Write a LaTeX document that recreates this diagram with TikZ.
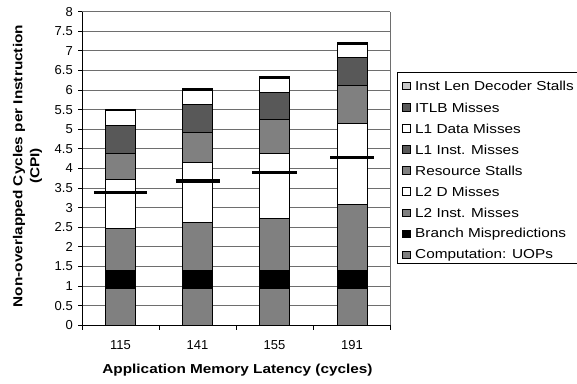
\documentclass[tikz,border=0pt]{standalone}
\usepackage{fontspec}
\setmainfont{Liberation Sans}
\newfontfamily\widefont{Liberation Sans}[FakeStretch=1.18]
\definecolor{cgray}{HTML}{808080}
\definecolor{cdark}{HTML}{585858}
\definecolor{clight}{HTML}{C8C8C8}
\definecolor{cgrid}{HTML}{6E6E6E}
\begin{document}
\begin{tikzpicture}[x=1pt,y=-1pt,
  seg/.style={draw=black,line width=0.8pt},
  gridline/.style={draw=cgrid,line width=0.9pt},
  axisline/.style={draw=black,line width=0.9pt},
  ticklab/.style={font=\fontsize{13}{15}\selectfont},
  leglab/.style={anchor=west,inner sep=0pt,font=\widefont\fontsize{13}{15}\selectfont},
  swatch/.style={draw=black,line width=0.7pt,minimum size=7.5pt,inner sep=0pt},
  marker/.style={line width=3.3pt,draw=black}]
\useasboundingbox (0,0) rectangle (577,383);
\fill[white] (0,0) rectangle (577,383);
\begin{scope}[shift={(0,325.3)},x=1pt,y=39.2pt]
  % grid
  \foreach \v in {0.5,1,1.5,2,2.5,3,3.5,4,4.5,5,5.5,6,6.5,7,7.5,8}
    \draw[gridline] (82,\v) -- (390,\v);
  \draw[gridline] (390,0) -- (390,8);
  % bars
  \foreach \xc/\ya/\yb/\yc/\yd/\ye/\yf/\yg/\yh/\yi/\my/\mw in {
      120.5/0.94/1.41/2.47/3.73/4.38/5.10/5.47/5.50/5.52/3.38/26.7,
      197.5/0.94/1.41/2.62/4.15/4.92/5.64/6.00/6.03/6.05/3.68/22,
      274.5/0.94/1.41/2.73/4.38/5.25/5.94/6.30/6.33/6.35/3.89/22.5,
      352/0.94/1.41/3.09/5.15/6.11/6.83/7.17/7.20/7.22/4.28/22}{
    \draw[seg,fill=cgray]  (\xc-15,0)   rectangle (\xc+15,\ya);
    \draw[seg,fill=black]  (\xc-15,\ya) rectangle (\xc+15,\yb);
    \draw[seg,fill=cgray]  (\xc-15,\yb) rectangle (\xc+15,\yc);
    \draw[seg,fill=white]  (\xc-15,\yc) rectangle (\xc+15,\yd);
    \draw[seg,fill=cgray]  (\xc-15,\yd) rectangle (\xc+15,\ye);
    \draw[seg,fill=cdark]  (\xc-15,\ye) rectangle (\xc+15,\yf);
    \draw[seg,fill=white]  (\xc-15,\yf) rectangle (\xc+15,\yg);
    \draw[seg,fill=cdark]  (\xc-15,\yg) rectangle (\xc+15,\yh);
    \draw[seg,fill=clight] (\xc-15,\yh) rectangle (\xc+15,\yi);
    \draw[marker] (\xc-\mw,\my) -- (\xc+\mw,\my);
  }
  % axes
  \draw[axisline] (82,0) -- (82,8);
  \draw[axisline] (82,0) -- (390,0);
  \foreach \v in {0,0.5,1,1.5,2,2.5,3,3.5,4,4.5,5,5.5,6,6.5,7,7.5,8}{
    \draw[axisline] (78,\v) -- (82,\v);
    \node[ticklab,anchor=east,inner sep=0pt] at (73,\v) {\v};
  }
  \foreach \x in {82,159,236.5,313.5,390}
    \draw[axisline] (\x,0) -- (\x,-0.13);
\end{scope}
% category labels
\node[ticklab] (c1) at (120.5,345) {115};
\node[ticklab] (c2) at (197.5,345) {141};
\node[ticklab] (c3) at (274.5,345) {155};
\node[ticklab] (c4) at (352,345) {191};
% axis titles
\node[font=\widefont\bfseries\fontsize{13}{15}\selectfont] (xt) at (237.5,370) {Application Memory Latency (cycles)};
\node[font=\widefont\bfseries\fontsize{13}{17}\selectfont,rotate=90,align=center] (yt) at (27.5,166)
  {Non-overlapped Cycles per Instruction\\(CPI)};
% legend
\draw[line width=0.9pt] (397.3,72.3) rectangle (580,263.3);
\foreach \i/\col/\txt in {
    0/clight/Inst Len Decoder Stalls,
    1/cdark/ITLB Misses,
    2/white/L1 Data Misses,
    3/cdark/L1 Inst. Misses,
    4/cgray/Resource Stalls,
    5/white/L2 D Misses,
    6/cgray/L2 Inst. Misses,
    7/black/Branch Mispredictions,
    8/cgray/Computation: UOPs}{
  \node[swatch,fill=\col] (s\i) at (406.5,86+21.1*\i) {};
  \node[leglab] (l\i) at (415,86.3+21.1*\i) {\txt};
}
\end{tikzpicture}
\end{document}
